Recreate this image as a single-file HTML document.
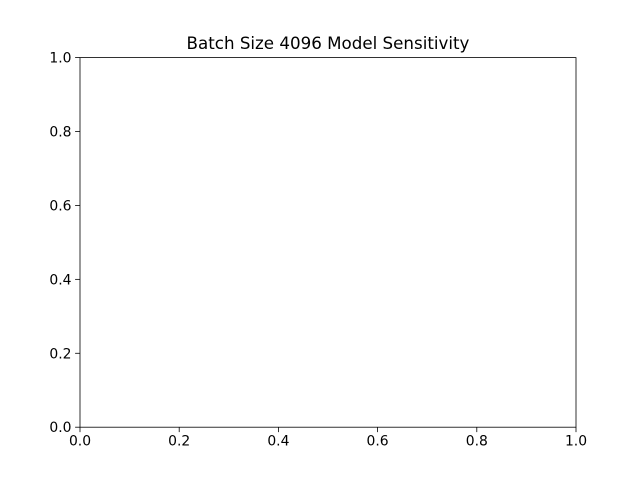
<!DOCTYPE html>
<html>
<head>
<meta charset="utf-8">
<style>
  html, body { margin: 0; padding: 0; background: #fff; }
  svg { display: block; }
  text { font-family: "DejaVu Sans", "Liberation Sans", sans-serif; fill: #000; }
</style>
</head>
<body>
<svg id="chart" width="640" height="480" viewBox="0 0 640 480">
  <rect x="0" y="0" width="640" height="480" fill="#fff"/>
  <text x="328" y="49" font-size="16.7" text-anchor="middle">Batch Size 4096 Model Sensitivity</text>
  <g id="axes"></g>
</svg>
<script>
const xTicks = [0.0, 0.2, 0.4, 0.6, 0.8, 1.0];
const yTicks = [0.0, 0.2, 0.4, 0.6, 0.8, 1.0];
const xDomain = [0, 1];
const yDomain = [0, 1];

const L = 80, R = 576, T = 57.6, B = 427.2;
const NS = 'http://www.w3.org/2000/svg';
const g = document.getElementById('axes');
function xs(v) { return L + (v - xDomain[0]) / (xDomain[1] - xDomain[0]) * (R - L); }
function ys(v) { return B - (v - yDomain[0]) / (yDomain[1] - yDomain[0]) * (B - T); }
function mk(tag, attrs) {
  const e = document.createElementNS(NS, tag);
  for (const k in attrs) e.setAttribute(k, attrs[k]);
  g.appendChild(e);
  return e;
}

const frame = mk('rect', {x: L, y: T, width: R - L, height: B - T, fill: 'none', stroke: '#000', 'stroke-width': 0.8});



xTicks.forEach(function (v) {
  const x = xs(v);
  const t = mk('line', {x1: x, x2: x, y1: B, y2: B + 4.9, stroke: '#000', 'stroke-width': 0.8});
  
  
  const lb = mk('text', {x: x, y: B + 18.5, 'font-size': 13.9, 'text-anchor': 'middle'});
  lb.textContent = v.toFixed(1);
  
  
});

yTicks.forEach(function (v) {
  const y = ys(v);
  const t = mk('line', {x1: L - 4.9, x2: L, y1: y, y2: y, stroke: '#000', 'stroke-width': 0.8});
  
  
  const lb = mk('text', {x: L - 8.5, y: y + 5, 'font-size': 13.9, 'text-anchor': 'end'});
  lb.textContent = v.toFixed(1);
  
  
});
</script>
</body>
</html>
